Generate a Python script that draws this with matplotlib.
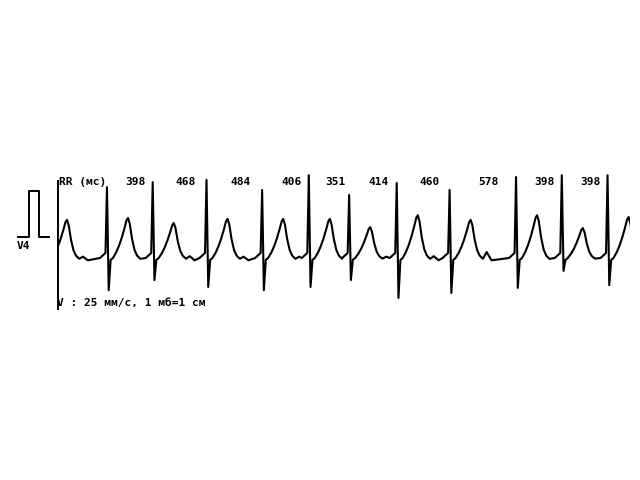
import matplotlib
matplotlib.use("Agg")
import matplotlib.pyplot as plt
from matplotlib.patches import Rectangle

# RR intervals printed above the trace (ms)
rr_ms = [398, 468, 484, 406, 351, 414, 460, 578, 398, 398]

# first fully visible R peak, and the partly visible beat before it (ms)
first_r_ms = 426
lead_in_rr_ms = 531

# per-beat amplitudes (mV), beat 0 is the clipped one on the left
r_mv = [1.60, 1.54, 1.65, 1.70, 1.48, 1.80, 1.37, 1.63, 1.48, 1.76, 1.80, 1.80]
s_mv = [0.60, 0.70, 0.48, 0.63, 0.70, 0.63, 0.48, 0.87, 0.76, 0.65, 0.28, 0.59]
t_mv = [0.83, 0.87, 0.76, 0.85, 0.85, 0.85, 0.67, 0.93, 0.83, 0.93, 0.65, 0.89]
u_mv = [0.03, 0.03, 0.04, 0.03, 0.03, 0.00, 0.03, 0.04, 0.13, 0.02, 0.03, 0.00]

# beat shape, offsets from the R peak (ms)
pre_ms = [-61, -35, -13]
pre_mv = [0.0, 0.06, 0.11]
s_off_ms = 15
st_ms = [32, 52]
st_mv = [-0.04, 0.0]
t_ms = [80, 104, 128, 152, 170, 183, 198, 218, 240, 262, 290]
t_frac = [0.14, 0.3, 0.5, 0.74, 0.94, 1.0, 0.86, 0.48, 0.2, 0.06, -0.02]
u_off_ms = 322
dip_ms, dip_mv = 365, -0.05

cal_mv = 1.0
lead_name = "V4"
speed_text = "V : 25 мм/с, 1 мб=1 см"
trace_end_ms = 4975

# R peak times
r_times = [first_r_ms - lead_in_rr_ms, first_r_ms]
for rr in rr_ms:
    r_times.append(r_times[-1] + rr)

# build the trace beat by beat
xs, ys = [], []
for i, tr in enumerate(r_times):
    for dt, v in zip(pre_ms, pre_mv):
        xs.append(tr + dt); ys.append(v)
    xs.append(tr); ys.append(r_mv[i])
    xs.append(tr + s_off_ms); ys.append(-s_mv[i])
    for dt, v in zip(st_ms, st_mv):
        xs.append(tr + dt); ys.append(v)
    for dt, f in zip(t_ms, t_frac):
        xs.append(tr + dt); ys.append(f * t_mv[i])
    if i + 1 < len(r_times):
        nxt = r_times[i + 1] + pre_ms[0]
        if tr + u_off_ms + 20 < nxt:
            xs.append(tr + u_off_ms); ys.append(u_mv[i])
        if tr + dip_ms + 20 < nxt:
            xs.append(tr + dip_ms); ys.append(dip_mv)

fig = plt.figure(figsize=(6.4, 4.8), dpi=100)
ax = fig.add_axes([0, 0, 1, 1])
ax.set_xlim(-504.6, 5063.4)
ax.set_ylim(-4.826, 5.609)
ax.axis("off")

line, = ax.plot(xs, ys, color="black", lw=1.5, solid_joinstyle="round")
line.set_clip_path(Rectangle((0, -3), trace_end_ms, 6, transform=ax.transData))

# left border of the strip
ax.vlines(0, -1.13, 1.70, color="black", lw=1.4)

# calibration pulse
cal_base = 0.457
cal_x = [-348, -252, -252, -165, -165, -78]
ax.plot(cal_x, [cal_base, cal_base, cal_base + cal_mv, cal_base + cal_mv, cal_base, cal_base],
        color="black", lw=1.4)

font = dict(family="DejaVu Sans Mono", fontsize=8, fontweight="bold", color="black")
ax.text(-362, 0.26, lead_name, ha="left", va="center", **font)
ax.text(5, 1.65, "RR (мс)", ha="left", va="center", **font)
for i, rr in enumerate(rr_ms):
    mid = (r_times[i + 1] + r_times[i + 2]) / 2 + 52
    ax.text(mid, 1.65, str(rr), ha="center", va="center", **font)
ax.text(-8, -0.98, speed_text, ha="left", va="center", **font)

fig.savefig("out.png", dpi=100, facecolor="white")
